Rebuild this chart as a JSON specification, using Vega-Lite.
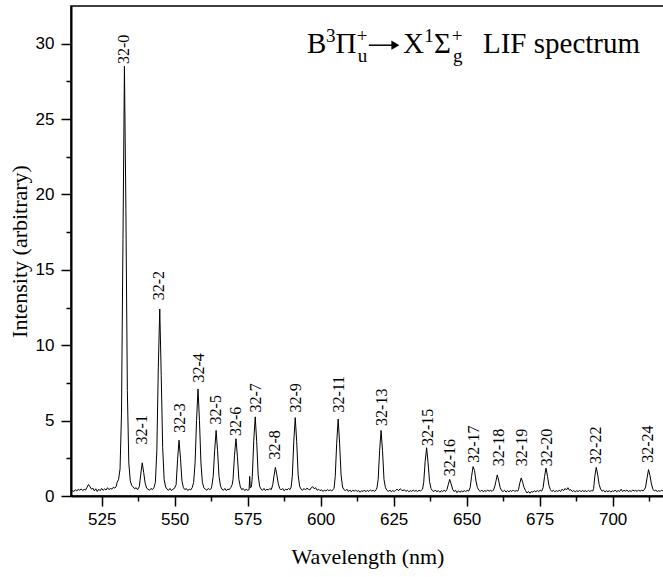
{
  "$schema": "https://vega.github.io/schema/vega-lite/v6.json",
  "width": 593,
  "height": 490,
  "autosize": {"type": "none"},
  "padding": {"left": 71, "top": 6, "right": 0, "bottom": 81},
  "background": "white",
  "config": {
    "view": {"stroke": "black", "strokeWidth": 1.5},
    "axis": {"grid": false, "domainColor": "black", "domainWidth": 2, "tickColor": "black", "tickWidth": 1.5, "labelColor": "black", "titleColor": "black", "labelFont": "Liberation Sans", "labelFontSize": 17, "titleFont": "Liberation Serif", "titleFontSize": 22, "titleFontWeight": "normal"}
  },
  "resolve": {"axis": {"x": "independent", "y": "independent"}},
  "layer": [
    {
      "data": {"values": [
        {"w":514.5,"i":0.28},{"w":515.0,"i":0.35},{"w":515.5,"i":0.30},{"w":516.0,"i":0.42},{"w":516.5,"i":0.33},{"w":517.0,"i":0.45},{"w":517.5,"i":0.38},{"w":518.0,"i":0.47},{"w":518.5,"i":0.36},{"w":519.0,"i":0.44},{"w":519.5,"i":0.40},{"w":520.0,"i":0.58},{"w":520.5,"i":0.76},{"w":521.0,"i":0.62},{"w":521.5,"i":0.45},{"w":522.0,"i":0.52},{"w":522.5,"i":0.34},{"w":523.0,"i":0.48},{"w":523.5,"i":0.30},{"w":524.0,"i":0.45},{"w":524.5,"i":0.35},{"w":525.0,"i":0.50},{"w":525.5,"i":0.38},{"w":526.0,"i":0.47},{"w":526.5,"i":0.40},{"w":527.0,"i":0.55},{"w":527.5,"i":0.42},{"w":528.0,"i":0.50},{"w":528.5,"i":0.46},{"w":529.0,"i":0.58},{"w":529.5,"i":0.52},{"w":530.0,"i":0.65},
        {"w":530.3,"i":0.9},{"w":530.8,"i":1.1},{"w":531.3,"i":1.8},{"w":531.8,"i":5.5},{"w":532.3,"i":17},{"w":532.8,"i":28.5},{"w":533.3,"i":19},{"w":533.8,"i":7},{"w":534.3,"i":2.2},{"w":534.8,"i":1.0},{"w":535.3,"i":0.7},{"w":535.8,"i":0.6},{"w":536.3,"i":0.48},{"w":536.8,"i":0.55},{"w":537.3,"i":0.42},
        {"w":537.9,"i":0.62},{"w":538.4,"i":1.45},{"w":538.9,"i":2.2},{"w":539.4,"i":1.55},{"w":539.9,"i":0.85},{"w":540.4,"i":0.52},{"w":540.9,"i":0.45},{"w":541.4,"i":0.38},{"w":541.9,"i":0.5},{"w":542.4,"i":0.42},{"w":542.9,"i":0.55},
        {"w":543.4,"i":0.9},{"w":543.9,"i":3.0},{"w":544.4,"i":8.5},{"w":544.9,"i":12.4},{"w":545.4,"i":8.0},{"w":545.9,"i":3.2},{"w":546.4,"i":1.1},{"w":546.9,"i":0.6},{"w":547.4,"i":0.45},{"w":547.9,"i":0.38},{"w":548.4,"i":0.5},{"w":548.9,"i":0.36},{"w":549.4,"i":0.45},{"w":549.9,"i":0.5},
        {"w":550.5,"i":0.75},{"w":551.0,"i":2.4},{"w":551.5,"i":3.7},{"w":552.0,"i":2.5},{"w":552.5,"i":1.0},{"w":553.0,"i":0.55},{"w":553.5,"i":0.42},{"w":554.0,"i":0.5},{"w":554.5,"i":0.36},{"w":555.0,"i":0.45},{"w":555.5,"i":0.40},{"w":556.0,"i":0.55},
        {"w":556.5,"i":0.9},{"w":557.0,"i":2.2},{"w":557.5,"i":5.0},{"w":558.0,"i":7.1},{"w":558.5,"i":5.0},{"w":559.0,"i":2.2},{"w":559.5,"i":0.9},{"w":560.0,"i":0.55},{"w":560.5,"i":0.45},{"w":561.0,"i":0.38},{"w":561.5,"i":0.5},{"w":562.0,"i":0.42},{"w":562.5,"i":0.48},
        {"w":562.7,"i":0.62},{"w":563.2,"i":1.3},{"w":563.7,"i":3.0},{"w":564.2,"i":4.35},{"w":564.7,"i":3.0},{"w":565.2,"i":1.3},{"w":565.7,"i":0.65},{"w":566.2,"i":0.45},{"w":566.7,"i":0.38},{"w":567.2,"i":0.5},{"w":567.7,"i":0.35},{"w":568.2,"i":0.46},{"w":568.7,"i":0.42},{"w":569.2,"i":0.55},
        {"w":569.7,"i":0.75},{"w":570.0,"i":1.1},{"w":570.5,"i":2.7},{"w":571.0,"i":3.8},{"w":571.5,"i":2.6},{"w":572.0,"i":1.1},{"w":572.5,"i":0.6},{"w":573.0,"i":0.42},{"w":573.5,"i":0.5},{"w":574.0,"i":0.36},{"w":574.5,"i":0.45},{"w":575.0,"i":0.38},{"w":575.5,"i":0.42},{"w":575.7,"i":1.3},{"w":575.9,"i":0.55},
        {"w":576.3,"i":0.6},{"w":576.6,"i":1.3},{"w":577.1,"i":3.7},{"w":577.6,"i":5.25},{"w":578.1,"i":3.6},{"w":578.6,"i":1.4},{"w":579.1,"i":0.65},{"w":579.6,"i":0.45},{"w":580.1,"i":0.38},{"w":580.6,"i":0.5},{"w":581.1,"i":0.36},{"w":581.6,"i":0.45},{"w":582.1,"i":0.4},{"w":582.6,"i":0.5},{"w":583.1,"i":0.42},
        {"w":583.6,"i":0.75},{"w":584.0,"i":1.3},{"w":584.5,"i":1.9},{"w":585.0,"i":1.4},{"w":585.5,"i":0.8},{"w":586.0,"i":0.5},{"w":586.5,"i":0.4},{"w":587.0,"i":0.5},{"w":587.5,"i":0.35},{"w":588.0,"i":0.45},{"w":588.5,"i":0.4},{"w":589.0,"i":0.5},{"w":589.5,"i":0.42},
        {"w":589.9,"i":0.6},{"w":590.3,"i":1.3},{"w":590.8,"i":3.6},{"w":591.3,"i":5.2},{"w":591.8,"i":3.6},{"w":592.3,"i":1.4},{"w":592.8,"i":0.65},{"w":593.3,"i":0.45},{"w":593.8,"i":0.38},{"w":594.3,"i":0.5},{"w":594.8,"i":0.4},{"w":595.3,"i":0.52},{"w":595.8,"i":0.45},{"w":596.3,"i":0.4},{"w":596.8,"i":0.55},{"w":597.3,"i":0.62},{"w":597.8,"i":0.48},{"w":598.3,"i":0.55},{"w":598.8,"i":0.38},{"w":599.3,"i":0.45},{"w":599.8,"i":0.35},{"w":600.3,"i":0.42},{"w":600.8,"i":0.3},{"w":601.3,"i":0.4},{"w":601.8,"i":0.33},{"w":602.3,"i":0.42},{"w":602.8,"i":0.36},{"w":603.3,"i":0.4},{"w":603.8,"i":0.33},{"w":604.3,"i":0.45},
        {"w":604.6,"i":0.5},{"w":605.0,"i":1.3},{"w":605.5,"i":3.5},{"w":606.0,"i":5.1},{"w":606.5,"i":3.5},{"w":607.0,"i":1.4},{"w":607.5,"i":0.6},{"w":608.0,"i":0.42},{"w":608.5,"i":0.35},{"w":609.0,"i":0.45},{"w":609.5,"i":0.3},{"w":610.0,"i":0.4},{"w":610.5,"i":0.28},{"w":611.0,"i":0.38},{"w":611.5,"i":0.32},{"w":612.0,"i":0.4},{"w":612.5,"i":0.3},{"w":613.0,"i":0.36},{"w":613.5,"i":0.25},{"w":614.0,"i":0.35},{"w":614.5,"i":0.3},{"w":615.0,"i":0.4},{"w":615.5,"i":0.28},{"w":616.0,"i":0.38},{"w":616.5,"i":0.3},{"w":617.0,"i":0.4},{"w":617.5,"i":0.33},{"w":618.0,"i":0.38},{"w":618.5,"i":0.3},{"w":619.0,"i":0.42},
        {"w":619.3,"i":0.55},{"w":619.7,"i":1.1},{"w":620.2,"i":3.0},{"w":620.7,"i":4.35},{"w":621.2,"i":3.0},{"w":621.7,"i":1.1},{"w":622.2,"i":0.55},{"w":622.7,"i":0.38},{"w":623.2,"i":0.3},{"w":623.7,"i":0.4},{"w":624.2,"i":0.28},{"w":624.7,"i":0.36},{"w":625.2,"i":0.3},{"w":625.7,"i":0.38},{"w":626.2,"i":0.45},{"w":626.7,"i":0.35},{"w":627.2,"i":0.48},{"w":627.7,"i":0.4},{"w":628.2,"i":0.35},{"w":628.7,"i":0.42},{"w":629.2,"i":0.3},{"w":629.7,"i":0.38},{"w":630.2,"i":0.28},{"w":630.7,"i":0.36},{"w":631.2,"i":0.3},{"w":631.7,"i":0.4},{"w":632.2,"i":0.32},{"w":632.7,"i":0.36},{"w":633.2,"i":0.3},{"w":633.7,"i":0.38},{"w":634.2,"i":0.33},
        {"w":634.9,"i":0.45},{"w":635.3,"i":0.9},{"w":635.8,"i":2.3},{"w":636.3,"i":3.2},{"w":636.8,"i":2.2},{"w":637.3,"i":0.95},{"w":637.8,"i":0.5},{"w":638.3,"i":0.35},{"w":638.8,"i":0.3},{"w":639.3,"i":0.4},{"w":639.8,"i":0.28},{"w":640.3,"i":0.36},{"w":640.8,"i":0.25},{"w":641.3,"i":0.35},{"w":641.8,"i":0.3},{"w":642.3,"i":0.38},{"w":642.8,"i":0.3},
        {"w":643.3,"i":0.45},{"w":643.7,"i":0.75},{"w":644.2,"i":1.1},{"w":644.7,"i":0.8},{"w":645.2,"i":0.45},{"w":645.7,"i":0.3},{"w":646.2,"i":0.38},{"w":646.7,"i":0.22},{"w":647.2,"i":0.35},{"w":647.7,"i":0.25},{"w":648.2,"i":0.33},{"w":648.7,"i":0.28},{"w":649.2,"i":0.35},{"w":649.7,"i":0.3},{"w":650.2,"i":0.38},{"w":650.7,"i":0.32},
        {"w":651.2,"i":0.55},{"w":651.7,"i":1.3},{"w":652.2,"i":1.95},{"w":652.7,"i":1.7},{"w":653.2,"i":1.0},{"w":653.7,"i":0.55},{"w":654.2,"i":0.38},{"w":654.7,"i":0.3},{"w":655.2,"i":0.4},{"w":655.7,"i":0.28},{"w":656.2,"i":0.36},{"w":656.7,"i":0.3},{"w":657.2,"i":0.4},{"w":657.7,"i":0.32},{"w":658.2,"i":0.38},{"w":658.7,"i":0.3},{"w":659.2,"i":0.4},
        {"w":659.6,"i":0.6},{"w":660.0,"i":0.95},{"w":660.5,"i":1.4},{"w":661.0,"i":1.0},{"w":661.5,"i":0.55},{"w":662.0,"i":0.35},{"w":662.5,"i":0.3},{"w":663.0,"i":0.38},{"w":663.5,"i":0.26},{"w":664.0,"i":0.35},{"w":664.5,"i":0.28},{"w":665.0,"i":0.36},{"w":665.5,"i":0.3},{"w":666.0,"i":0.4},{"w":666.5,"i":0.3},{"w":667.0,"i":0.36},{"w":667.5,"i":0.32},
        {"w":667.8,"i":0.45},{"w":668.2,"i":0.85},{"w":668.7,"i":1.2},{"w":669.2,"i":0.9},{"w":669.7,"i":0.55},{"w":670.2,"i":0.35},{"w":670.7,"i":0.2},{"w":671.2,"i":0.3},{"w":671.7,"i":0.18},{"w":672.2,"i":0.3},{"w":672.7,"i":0.25},{"w":673.2,"i":0.35},{"w":673.7,"i":0.28},{"w":674.2,"i":0.36},{"w":674.7,"i":0.3},{"w":675.2,"i":0.38},{"w":675.7,"i":0.32},
        {"w":676.2,"i":0.55},{"w":676.7,"i":1.3},{"w":677.2,"i":1.85},{"w":677.7,"i":1.3},{"w":678.2,"i":0.7},{"w":678.7,"i":0.42},{"w":679.2,"i":0.3},{"w":679.7,"i":0.38},{"w":680.2,"i":0.28},{"w":680.7,"i":0.36},{"w":681.2,"i":0.3},{"w":681.7,"i":0.38},{"w":682.2,"i":0.3},{"w":682.7,"i":0.45},{"w":683.2,"i":0.35},{"w":683.7,"i":0.5},{"w":684.2,"i":0.4},{"w":684.7,"i":0.55},{"w":685.2,"i":0.38},{"w":685.7,"i":0.42},{"w":686.2,"i":0.3},{"w":686.7,"i":0.36},{"w":687.2,"i":0.28},{"w":687.7,"i":0.35},{"w":688.2,"i":0.3},{"w":688.7,"i":0.38},{"w":689.2,"i":0.28},{"w":689.7,"i":0.36},{"w":690.2,"i":0.3},{"w":690.7,"i":0.35},{"w":691.2,"i":0.28},{"w":691.7,"i":0.38},{"w":692.2,"i":0.3},{"w":692.7,"i":0.36},{"w":693.2,"i":0.33},
        {"w":693.5,"i":0.5},{"w":693.9,"i":1.3},{"w":694.4,"i":1.9},{"w":694.9,"i":1.4},{"w":695.4,"i":0.75},{"w":695.9,"i":0.45},{"w":696.4,"i":0.32},{"w":696.9,"i":0.38},{"w":697.4,"i":0.26},{"w":697.9,"i":0.35},{"w":698.4,"i":0.28},{"w":698.9,"i":0.36},{"w":699.4,"i":0.25},{"w":699.9,"i":0.35},{"w":700.4,"i":0.3},{"w":700.9,"i":0.4},{"w":701.4,"i":0.28},{"w":701.9,"i":0.36},{"w":702.4,"i":0.3},{"w":702.9,"i":0.45},{"w":703.4,"i":0.3},{"w":703.9,"i":0.38},{"w":704.4,"i":0.32},{"w":704.9,"i":0.4},{"w":705.4,"i":0.28},{"w":705.9,"i":0.36},{"w":706.4,"i":0.3},{"w":706.9,"i":0.4},{"w":707.4,"i":0.33},{"w":707.9,"i":0.38},{"w":708.4,"i":0.3},{"w":708.9,"i":0.4},{"w":709.4,"i":0.32},{"w":709.9,"i":0.38},{"w":710.4,"i":0.35},{"w":710.9,"i":0.42},
        {"w":711.3,"i":0.6},{"w":711.8,"i":1.2},{"w":712.3,"i":1.75},{"w":712.8,"i":1.35},{"w":713.3,"i":0.8},{"w":713.8,"i":0.45},{"w":714.3,"i":0.33},{"w":714.8,"i":0.4},{"w":715.3,"i":0.28},{"w":715.8,"i":0.36},{"w":716.3,"i":0.3},{"w":716.8,"i":0.4},{"w":717.3,"i":0.32},{"w":717.8,"i":0.35}
      ]},
      "mark": {"type": "line", "color": "black", "strokeWidth": 1, "clip": true},
      "encoding": {
        "x": {"field": "w", "type": "quantitative", "scale": {"domain": [514.5, 717.6], "nice": false, "zero": false},
              "axis": {"orient": "bottom", "values": [525, 550, 575, 600, 625, 650, 675, 700], "tickSize": 10, "labelPadding": 5, "title": "Wavelength (nm)", "titlePadding": 19, "labelFlush": false}},
        "y": {"field": "i", "type": "quantitative", "scale": {"domain": [0, 32.5], "nice": false},
              "axis": {"orient": "left", "values": [0, 5, 10, 15, 20, 25, 30], "tickSize": 10, "labelPadding": 7, "title": "Intensity (arbitrary)", "titlePadding": 4, "labelFlush": false}}
      }
    },
    {
      "data": {"values": [
        {"w":532.6,"lab":"32-0","ly":28.65},{"w":538.9,"lab":"32-1","ly":3.42},{"w":544.6,"lab":"32-2","ly":12.98},{"w":551.7,"lab":"32-3","ly":4.2},{"w":558.2,"lab":"32-4","ly":7.53},{"w":564.1,"lab":"32-5","ly":4.75},{"w":571.1,"lab":"32-6","ly":3.98},{"w":577.8,"lab":"32-7","ly":5.53},{"w":584.5,"lab":"32-8","ly":2.42},{"w":591.6,"lab":"32-9","ly":5.53},{"w":606.4,"lab":"32-11","ly":5.53},{"w":621.1,"lab":"32-13","ly":4.65},{"w":636.7,"lab":"32-15","ly":3.31},{"w":644.4,"lab":"32-16","ly":1.31},{"w":652.4,"lab":"32-17","ly":2.2},{"w":661.0,"lab":"32-18","ly":1.98},{"w":668.9,"lab":"32-19","ly":1.98},{"w":677.5,"lab":"32-20","ly":1.98},{"w":694.3,"lab":"32-22","ly":2.13},{"w":712.2,"lab":"32-24","ly":2.2}
      ]},
      "mark": {"type": "text", "angle": 270, "align": "left", "baseline": "middle", "font": "Liberation Serif", "fontSize": 16, "color": "black"},
      "encoding": {
        "x": {"field": "w", "type": "quantitative", "axis": {"orient": "bottom", "values": [537.5, 562.5, 587.5, 612.5, 637.5, 662.5, 687.5, 712.5], "tickSize": 5, "labels": false, "domain": false, "title": null}},
        "y": {"field": "ly", "type": "quantitative", "axis": {"orient": "left", "values": [2.5, 7.5, 12.5, 17.5, 22.5, 27.5], "tickSize": 5, "labels": false, "domain": false, "title": null}},
        "text": {"field": "lab"}
      }
    },
    {"data": {"values": [{}]}, "mark": {"type": "text", "text": "B", "font": "Liberation Serif", "fontSize": 29, "align": "left", "baseline": "alphabetic", "color": "black"},
     "encoding": {"x": {"datum": 595.3, "axis": null}, "y": {"datum": 29.38, "axis": null}}},
    {"data": {"values": [{}]}, "mark": {"type": "text", "text": "3", "font": "Liberation Serif", "fontSize": 19, "align": "left", "baseline": "alphabetic", "color": "black"},
     "encoding": {"x": {"datum": 601.8, "axis": null}, "y": {"datum": 30.1, "axis": null}}},
    {"data": {"values": [{}]}, "mark": {"type": "text", "text": "Π", "font": "Liberation Serif", "fontSize": 29, "align": "left", "baseline": "alphabetic", "color": "black"},
     "encoding": {"x": {"datum": 605.1, "axis": null}, "y": {"datum": 29.38, "axis": null}}},
    {"data": {"values": [{}]}, "mark": {"type": "text", "text": "+", "font": "Liberation Serif", "fontSize": 19, "align": "left", "baseline": "alphabetic", "color": "black"},
     "encoding": {"x": {"datum": 612.4, "axis": null}, "y": {"datum": 30.1, "axis": null}}},
    {"data": {"values": [{}]}, "mark": {"type": "text", "text": "u", "font": "Liberation Serif", "fontSize": 19, "align": "left", "baseline": "alphabetic", "color": "black"},
     "encoding": {"x": {"datum": 612.7, "axis": null}, "y": {"datum": 28.78, "axis": null}}},
    {"data": {"values": [{}]}, "mark": {"type": "rule", "color": "black", "strokeWidth": 1.5},
     "encoding": {"x": {"datum": 616.5, "axis": null}, "x2": {"datum": 625.1}, "y": {"datum": 29.9, "axis": null}}},
    {"data": {"values": [{}]}, "mark": {"type": "point", "shape": "triangle-right", "filled": true, "color": "black", "size": 85, "opacity": 1},
     "encoding": {"x": {"datum": 625.6, "axis": null}, "y": {"datum": 29.9, "axis": null}}},
    {"data": {"values": [{}]}, "mark": {"type": "text", "text": "X", "font": "Liberation Serif", "fontSize": 29, "align": "left", "baseline": "alphabetic", "color": "black"},
     "encoding": {"x": {"datum": 628.2, "axis": null}, "y": {"datum": 29.38, "axis": null}}},
    {"data": {"values": [{}]}, "mark": {"type": "text", "text": "1", "font": "Liberation Serif", "fontSize": 19, "align": "left", "baseline": "alphabetic", "color": "black"},
     "encoding": {"x": {"datum": 635.5, "axis": null}, "y": {"datum": 30.1, "axis": null}}},
    {"data": {"values": [{}]}, "mark": {"type": "text", "text": "Σ", "font": "Liberation Serif", "fontSize": 29, "align": "left", "baseline": "alphabetic", "color": "black"},
     "encoding": {"x": {"datum": 638.8, "axis": null}, "y": {"datum": 29.38, "axis": null}}},
    {"data": {"values": [{}]}, "mark": {"type": "text", "text": "+", "font": "Liberation Serif", "fontSize": 19, "align": "left", "baseline": "alphabetic", "color": "black"},
     "encoding": {"x": {"datum": 644.9, "axis": null}, "y": {"datum": 30.1, "axis": null}}},
    {"data": {"values": [{}]}, "mark": {"type": "text", "text": "g", "font": "Liberation Serif", "fontSize": 19, "align": "left", "baseline": "alphabetic", "color": "black"},
     "encoding": {"x": {"datum": 645.3, "axis": null}, "y": {"datum": 28.78, "axis": null}}},
    {"data": {"values": [{}]}, "mark": {"type": "text", "text": "LIF spectrum", "font": "Liberation Serif", "fontSize": 29, "align": "left", "baseline": "alphabetic", "color": "black"},
     "encoding": {"x": {"datum": 655.6, "axis": null}, "y": {"datum": 29.38, "axis": null}}}
  ]
}
